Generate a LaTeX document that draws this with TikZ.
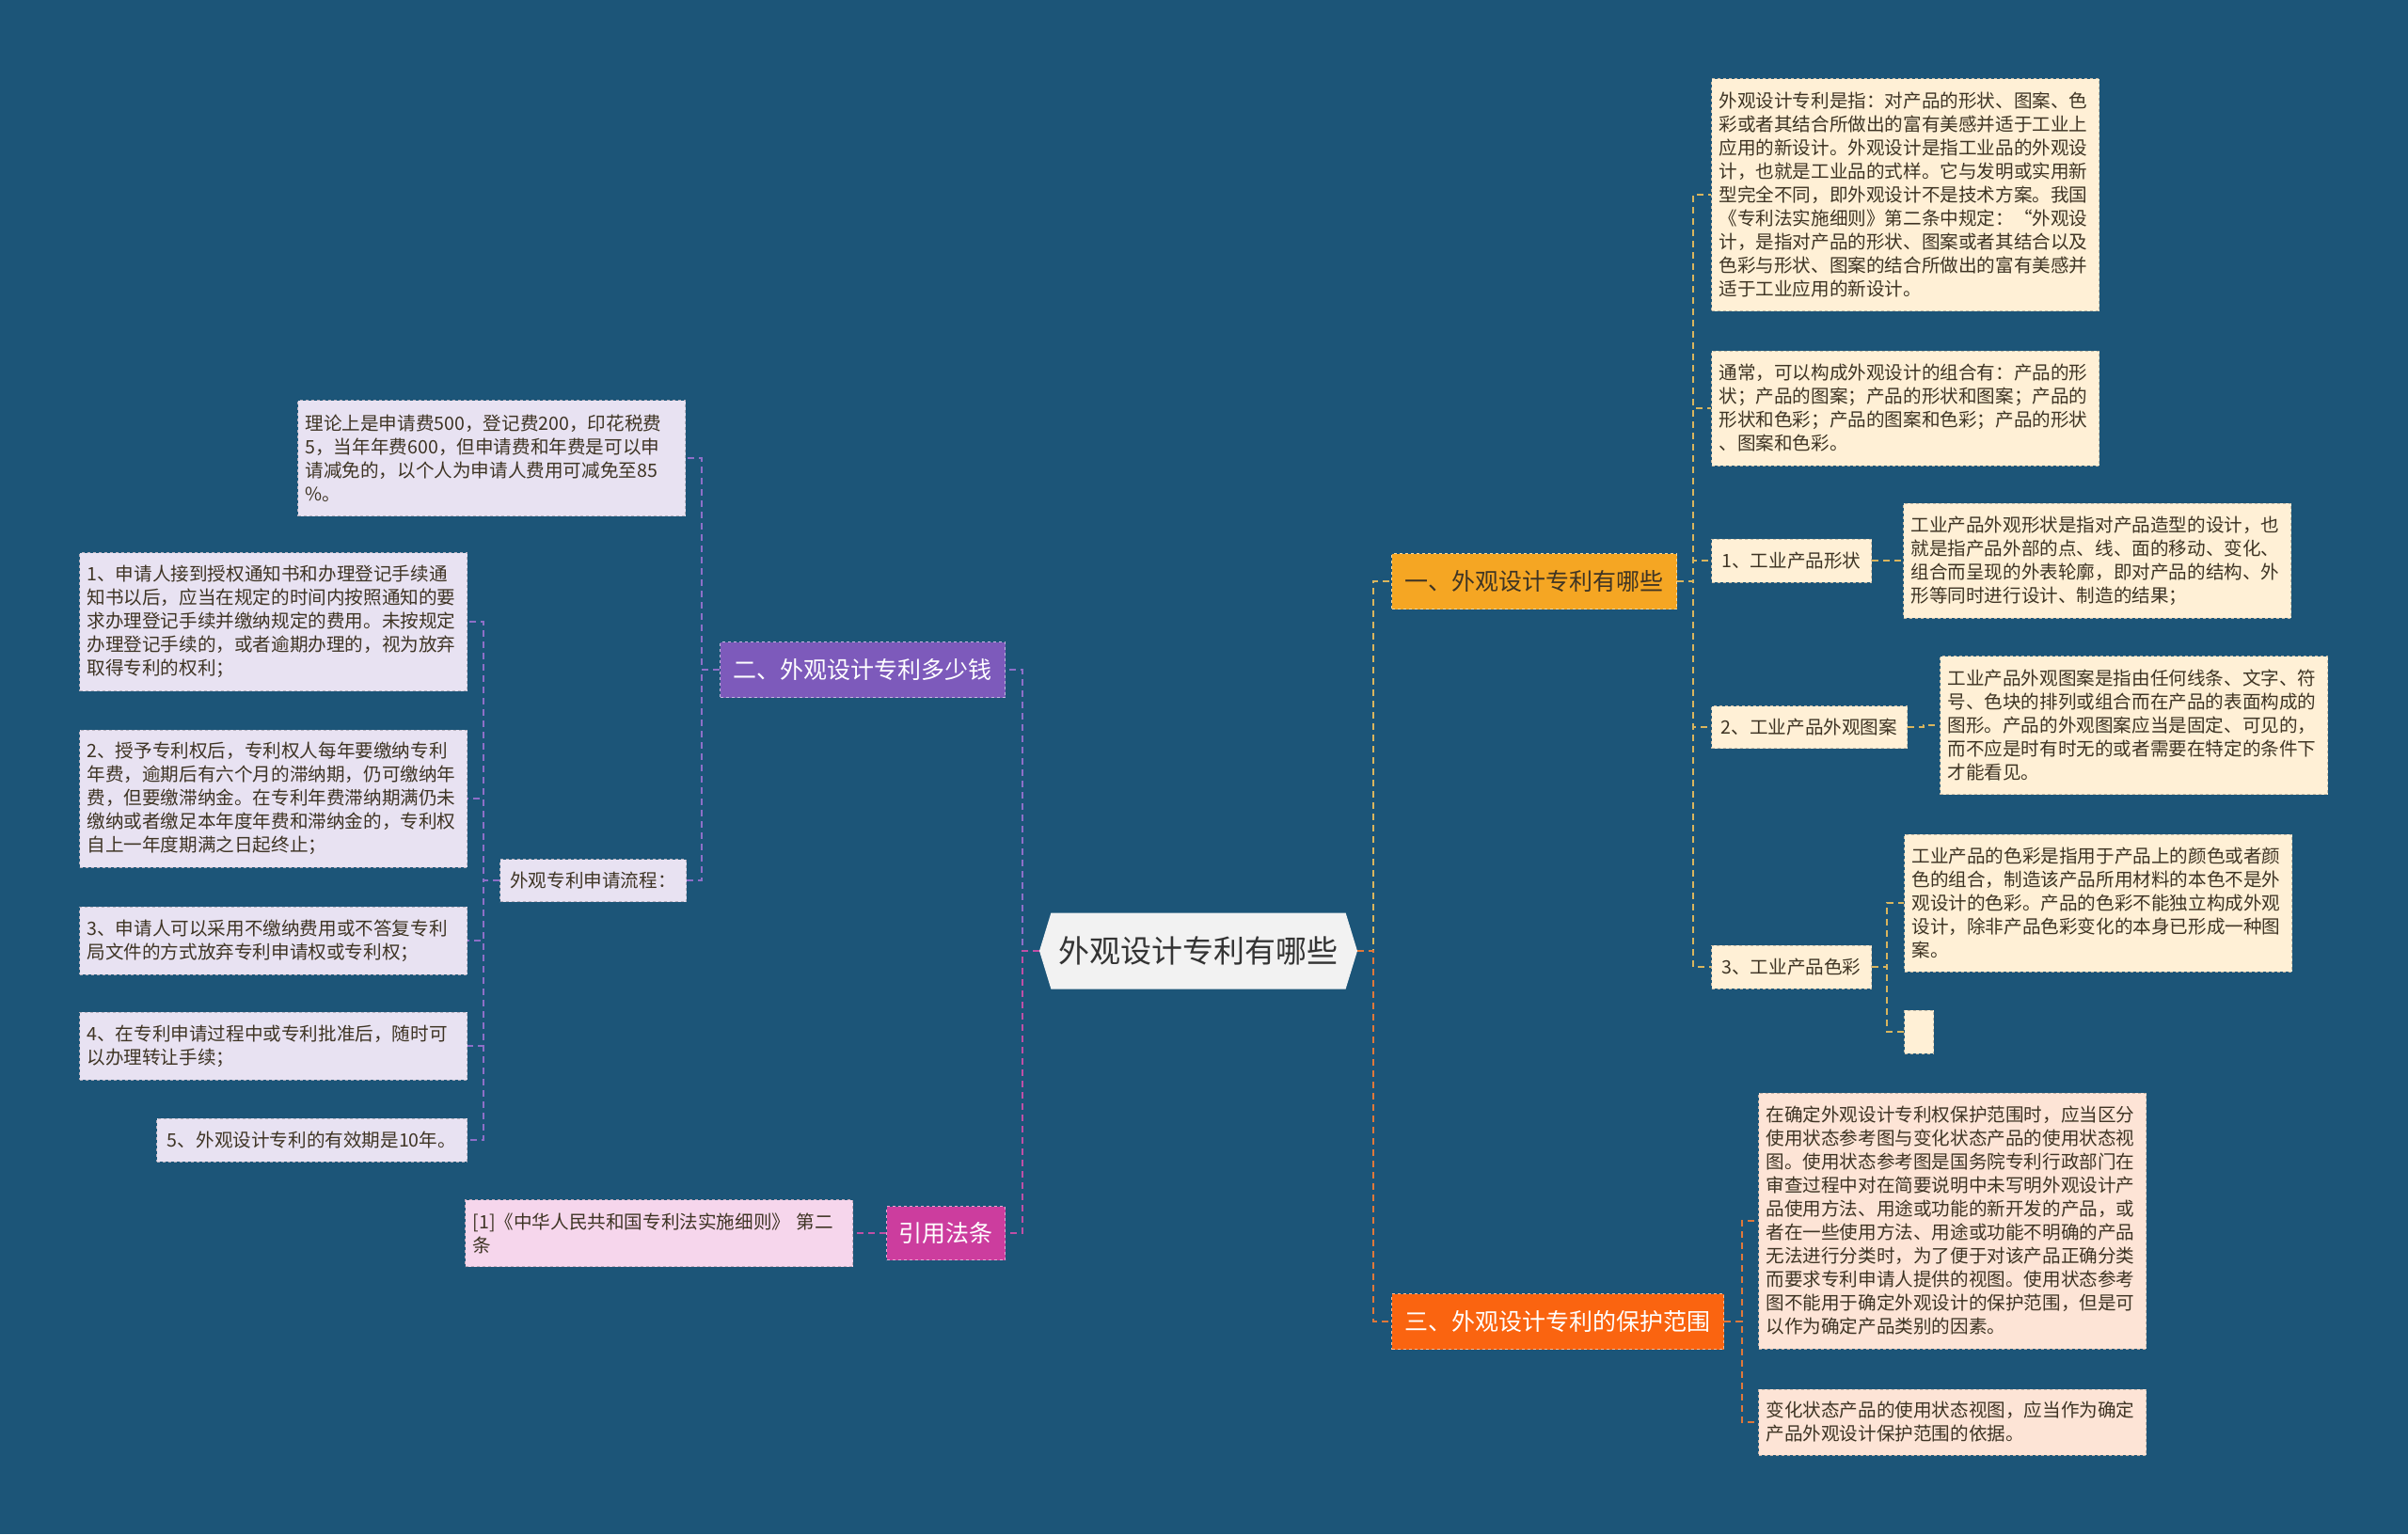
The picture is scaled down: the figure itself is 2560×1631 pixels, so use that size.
\documentclass[tikz,border=0pt]{standalone}
\usepackage{fontspec}
\setmainfont{Noto Sans CJK SC}
\usepackage{tikz}
\usetikzlibrary{shapes.symbols}

\definecolor{hintergrund}{HTML}{1C5578}
\definecolor{gelb}{HTML}{F5A623}
\definecolor{orangerot}{HTML}{FA6410}
\definecolor{lila}{HTML}{7D5ABB}
\definecolor{magenta}{HTML}{CC3D9E}
\definecolor{creme}{HTML}{FFF0D6}
\definecolor{rosa}{HTML}{FDE4D6}
\definecolor{flieder}{HTML}{E8E2F2}
\definecolor{pink}{HTML}{F6D6EC}
\definecolor{goldlinie}{HTML}{D9B55E}
\definecolor{orangelinie}{HTML}{E0783A}
\definecolor{lilalinie}{HTML}{8E6FC8}
\definecolor{pinklinie}{HTML}{C04FA6}
\definecolor{schrift}{HTML}{3E3424}

\begin{document}
\begin{tikzpicture}[x=1pt, y=-1pt,
					linie/.style={draw=#1, line width=2pt, dash pattern=on 7pt off 5pt},
					zentrum/.style={shape=signal, signal to=west and east, signal pointer angle=146, fill=black!5, text=black!80,
						minimum width=338pt, minimum height=81pt, inner sep=0pt, font=\fontsize{33}{40}\selectfont},
					haupt/.style={fill=#1, draw=white!55!#1, line width=1pt, dashed, minimum height=59pt, inner xsep=0pt,
						font=\fontsize{25}{30}\selectfont},
					blatt/.style={fill=#1, draw=black!22!#1, line width=1pt, dashed, inner xsep=8pt, inner ysep=0pt,
						align=left, text=schrift, font=\fontsize{19.6}{25}\selectfont},
					breit/.style={text width=396pt}]
					%Hintergrund zeichnen
					\fill[hintergrund] (0,0) rectangle (2560,1631);
					\useasboundingbox (0,0) rectangle (2560,1631);
					% Mitte
					\node[zentrum] (mitte) at (1274,1011) {外观设计专利有哪些};
					% Hauptaeste
					\node[haupt=gelb, anchor=west, minimum width=303pt, text=schrift] (eins) at (1479,618) {一、外观设计专利有哪些};
					\node[haupt=orangerot, anchor=west, minimum width=353pt, text=white] (drei) at (1479,1405) {三、外观设计专利的保护范围};
					\node[haupt=lila, anchor=east, minimum width=303pt, text=white] (zwei) at (1069,712) {二、外观设计专利多少钱};
					\node[haupt=magenta, anchor=east, minimum width=126pt, minimum height=57pt, text=white] (gesetz) at (1069,1311) {引用法条};
					% Blaetter rechts oben
					\node[blatt=creme, breit, anchor=west, minimum height=247pt] (def) at (1819,207) {外观设计专利是指：对产品的形状、图案、色\\彩或者其结合所做出的富有美感并适于工业上\\应用的新设计。外观设计是指工业品的外观设\\计，也就是工业品的式样。它与发明或实用新\\型完全不同，即外观设计不是技术方案。我国\\《专利法实施细则》第二条中规定：“外观设\\计，是指对产品的形状、图案或者其结合以及\\色彩与形状、图案的结合所做出的富有美感并\\适于工业应用的新设计。};
					\node[blatt=creme, breit, anchor=west, minimum height=122pt] (kombi) at (1819,434) {通常，可以构成外观设计的组合有：产品的形\\状；产品的图案；产品的形状和图案；产品的\\形状和色彩；产品的图案和色彩；产品的形状\\、图案和色彩。};
					\node[blatt=creme, anchor=west, minimum width=170pt, minimum height=46pt] (form) at (1819,596) {1、工业产品形状};
					\node[blatt=creme, breit, anchor=west, minimum height=122pt] (formtext) at (2023,596) {工业产品外观形状是指对产品造型的设计，也\\就是指产品外部的点、线、面的移动、变化、\\组合而呈现的外表轮廓，即对产品的结构、外\\形等同时进行设计、制造的结果；};
					\node[blatt=creme, anchor=west, minimum width=208pt, minimum height=45pt] (muster) at (1819,773) {2、工业产品外观图案};
					\node[blatt=creme, breit, anchor=west, minimum height=147pt] (mustertext) at (2062,771) {工业产品外观图案是指由任何线条、文字、符\\号、色块的排列或组合而在产品的表面构成的\\图形。产品的外观图案应当是固定、可见的，\\而不应是时有时无的或者需要在特定的条件下\\才能看见。};
					\node[blatt=creme, anchor=west, minimum width=170pt, minimum height=46pt] (farbe) at (1819,1028) {3、工业产品色彩};
					\node[blatt=creme, breit, anchor=west, minimum height=146pt] (farbtext) at (2024,960) {工业产品的色彩是指用于产品上的颜色或者颜\\色的组合，制造该产品所用材料的本色不是外\\观设计的色彩。产品的色彩不能独立构成外观\\设计，除非产品色彩变化的本身已形成一种图\\案。};
					\node[blatt=creme, anchor=west, minimum width=31pt, minimum height=46pt, inner xsep=0pt] (leer) at (2024,1097) {};
					% Blaetter rechts unten
					\node[blatt=rosa, breit, anchor=west, minimum height=272pt] (schutz) at (1869,1298) {在确定外观设计专利权保护范围时，应当区分\\使用状态参考图与变化状态产品的使用状态视\\图。使用状态参考图是国务院专利行政部门在\\审查过程中对在简要说明中未写明外观设计产\\品使用方法、用途或功能的新开发的产品，或\\者在一些使用方法、用途或功能不明确的产品\\无法进行分类时，为了便于对该产品正确分类\\而要求专利申请人提供的视图。使用状态参考\\图不能用于确定外观设计的保护范围，但是可\\以作为确定产品类别的因素。};
					\node[blatt=rosa, breit, anchor=west, minimum height=70pt] (wechsel) at (1869,1512) {变化状态产品的使用状态视图，应当作为确定\\产品外观设计保护范围的依据。};
					% Blaetter links
					\node[blatt=flieder, breit, anchor=east, minimum height=123pt] (kosten) at (729,487) {理论上是申请费500，登记费200，印花税费\\5，当年年费600，但申请费和年费是可以申\\请减免的，以个人为申请人费用可减免至85\\\%。};
					\node[blatt=flieder, anchor=east, minimum width=198pt, minimum height=45pt] (ablauf) at (730,936) {外观专利申请流程：};
					\node[blatt=flieder, breit, anchor=east, minimum height=147pt] (s1) at (497,661) {1、申请人接到授权通知书和办理登记手续通\\知书以后，应当在规定的时间内按照通知的要\\求办理登记手续并缴纳规定的费用。未按规定\\办理登记手续的，或者逾期办理的，视为放弃\\取得专利的权利；};
					\node[blatt=flieder, breit, anchor=east, minimum height=146pt] (s2) at (497,849) {2、授予专利权后，专利权人每年要缴纳专利\\年费，逾期后有六个月的滞纳期，仍可缴纳年\\费，但要缴滞纳金。在专利年费滞纳期满仍未\\缴纳或者缴足本年度年费和滞纳金的，专利权\\自上一年度期满之日起终止；};
					\node[blatt=flieder, breit, anchor=east, minimum height=72pt] (s3) at (497,1000) {3、申请人可以采用不缴纳费用或不答复专利\\局文件的方式放弃专利申请权或专利权；};
					\node[blatt=flieder, breit, anchor=east, minimum height=72pt] (s4) at (497,1112) {4、在专利申请过程中或专利批准后，随时可\\以办理转让手续；};
					\node[blatt=flieder, anchor=east, minimum width=330pt, minimum height=46pt] (s5) at (497,1212) {5、外观设计专利的有效期是10年。};
					\node[blatt=pink, breit, anchor=east, minimum height=71pt] (quelle) at (907,1311) {[1]《中华人民共和国专利法实施细则》 第二\\条};
					%Verbindungen zeichnen
					\draw[linie=goldlinie] (mitte.east) -- ++(17,0) |- (eins.west);
					\draw[linie=orangelinie] (mitte.east) -- ++(17,0) |- (drei.west);
					\draw[linie=lilalinie] (mitte.west) -- ++(-18,0) |- (zwei.east);
					\draw[linie=pinklinie] (mitte.west) -- ++(-18,0) |- (gesetz.east);
					\foreach \k in {def,kombi,form,muster,farbe} \draw[linie=goldlinie] (eins.east) -- ++(17,0) |- (\k.west);
					\draw[linie=goldlinie] (form.east) -- ++(17,0) |- (formtext.west);
					\draw[linie=goldlinie] (muster.east) -- ++(17,0) |- (mustertext.west);
					\foreach \k in {farbtext,leer} \draw[linie=goldlinie] (farbe.east) -- ++(16,0) |- (\k.west);
					\foreach \k in {schutz,wechsel} \draw[linie=orangelinie] (drei.east) -- ++(19,0) |- (\k.west);
					\foreach \k in {kosten,ablauf} \draw[linie=lilalinie] (zwei.west) -- ++(-19,0) |- (\k.east);
					\foreach \k in {s1,s2,s3,s4,s5} \draw[linie=lilalinie] (ablauf.west) -- ++(-17,0) |- (\k.east);
					\draw[linie=pinklinie] (gesetz.west) -- (quelle.east);
				\end{tikzpicture}
\end{document}
